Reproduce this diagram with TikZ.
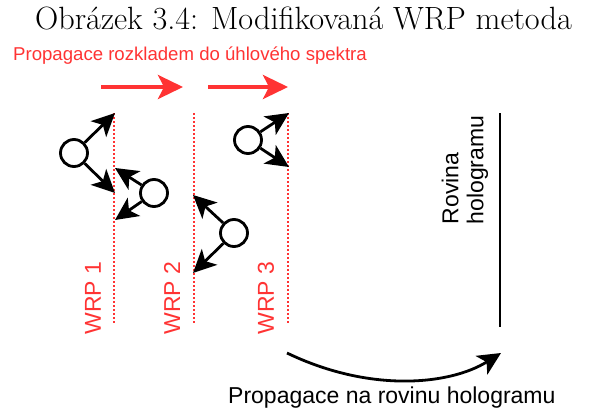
\documentclass[tikz,border=0pt]{standalone}
\usepackage{fontspec}
\newfontfamily\arialfont{Liberation Sans}
\usetikzlibrary{arrows.meta}
\definecolor{wred}{RGB}{255,51,51}
\begin{document}
\begin{tikzpicture}[x=1pt,y=-1pt,
  arr/.style={line width=2.8pt,-{Stealth[length=23pt,width=22pt,inset=6pt]}},
  redarr/.style={wred,line width=3.8pt,-{Stealth[length=25pt,width=24pt,inset=6pt]}},
  wrp/.style={wred,line width=2pt,dash pattern=on 2pt off 2pt},
  circ/.style={circle,draw,line width=2.8pt,minimum size=27pt,inner sep=0pt},
  lbl/.style={inner sep=0pt,font=\arialfont\fontsize{23}{25}\selectfont},
  wlbl/.style={lbl,text=wred,rotate=90}
]
\useasboundingbox (0,0) rectangle (598,413);
% title
\node[anchor=base west,inner sep=0pt,font=\fontsize{32.2}{34}\selectfont] (title) at (35,29) {Obrázek 3.4: Modifikovaná WRP metoda};
\node[anchor=base west,inner sep=0pt,text=wred,font=\arialfont\fontsize{18.6}{20}\selectfont] (sub) at (13,60) {Propagace rozkladem do úhlového spektra};
% red arrows
\coordinate (ra1s) at (101,87); \coordinate (ra1e) at (183,87);
\coordinate (ra2s) at (208,87); \coordinate (ra2e) at (288,87);
\draw[redarr] (ra1s) -- (ra1e);
\draw[redarr] (ra2s) -- (ra2e);
% WRP planes
\coordinate (w1t) at (114,113); \coordinate (w1b) at (114,323);
\coordinate (w2t) at (194,113); \coordinate (w2b) at (194,323);
\coordinate (w3t) at (288,113); \coordinate (w3b) at (288,323);
\draw[wrp] (w1t) -- (w1b);
\draw[wrp] (w2t) -- (w2b);
\draw[wrp] (w3t) -- (w3b);
\node[wlbl] (l1) at (93,298) {WRP 1};
\node[wlbl] (l2) at (172,298) {WRP 2};
\node[wlbl] (l3) at (266,298) {WRP 3};
% points
\node[circ] (c1) at (74,153) {};
\node[circ] (c2) at (154,193) {};
\node[circ] (c3) at (234,233) {};
\node[circ] (c4) at (248,140) {};
\coordinate (t1a) at (115,113); \coordinate (t1b) at (115,193);
\coordinate (t2a) at (115,168); \coordinate (t2b) at (115,220);
\coordinate (t3a) at (193,195); \coordinate (t3b) at (193,273);
\coordinate (t4a) at (289,113); \coordinate (t4b) at (289,167);
\draw[arr] (c1) -- (t1a);
\draw[arr] (c1) -- (t1b);
\draw[arr] (c2) -- (t2a);
\draw[arr] (c2) -- (t2b);
\draw[arr] (c3) -- (t3a);
\draw[arr] (c3) -- (t3b);
\draw[arr] (c4) -- (t4a);
\draw[arr] (c4) -- (t4b);
% hologram plane
\coordinate (ht) at (500,113); \coordinate (hb) at (500,327);
\draw[line width=2.6pt] (ht) -- (hb);
\node[lbl,rotate=90,align=left] (hl) at (465,170) {Rovina\\hologramu};
% propagation arrow
\coordinate (ps) at (287,353); \coordinate (pe) at (501,353);
\draw[arr] (ps) .. controls (370,393) and (450,385) .. (pe);
\node[anchor=base west,lbl] (pl) at (228,403) {Propagace na rovinu hologramu};
\end{tikzpicture}
\end{document}
